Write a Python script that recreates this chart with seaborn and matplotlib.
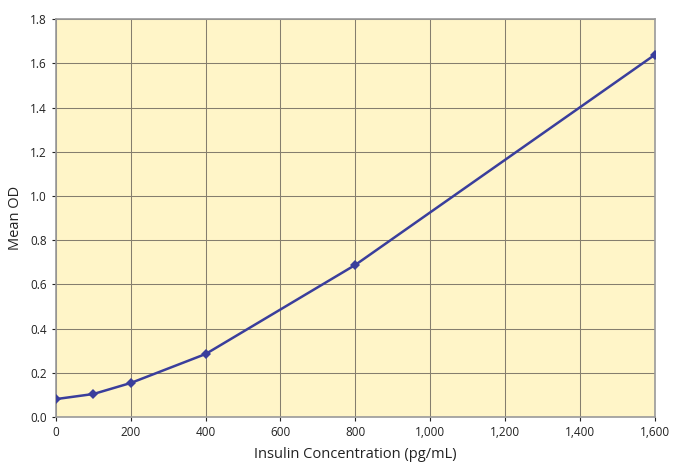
import matplotlib
matplotlib.use("Agg")
import matplotlib.pyplot as plt
import seaborn as sns
import pandas as pd

# standard curve data
conc = [0, 100, 200, 400, 800, 1600]
mean_od = [0.081, 0.104, 0.154, 0.285, 0.688, 1.638]

x_ticks = [0, 200, 400, 600, 800, 1000, 1200, 1400, 1600]
x_labels = ["0", "200", "400", "600", "800", "1,000", "1,200", "1,400", "1,600"]
y_ticks = [0.0, 0.2, 0.4, 0.6, 0.8, 1.0, 1.2, 1.4, 1.6, 1.8]
y_labels = ["0.0", "0.2", "0.4", "0.6", "0.8", "1.0", "1.2", "1.4", "1.6", "1.8"]

df = pd.DataFrame({"conc": conc, "od": mean_od})

sns.set_style("white")
plt.rcParams["font.family"] = ["Open Sans", "DejaVu Sans"]

fig = plt.figure(figsize=(6.84, 4.68), dpi=100)
ax = fig.add_axes([0.0819, 0.109, 0.875, 0.850])
ax.set_facecolor("#fff5c8")

sns.lineplot(data=df, x="conc", y="od", ax=ax, color="#3a3e9c", linewidth=1.8,
             marker="D", markersize=5, markeredgewidth=0, zorder=3)

ax.set_xlim(0, 1600)
ax.set_ylim(0, 1.8)
ax.set_xticks(x_ticks)
ax.set_xticklabels(x_labels)
ax.set_yticks(y_ticks)
ax.set_yticklabels(y_labels)
ax.grid(True, color="#857e6e", linewidth=0.75)
ax.set_axisbelow(True)
for s in ax.spines.values():
    s.set_color("#9a9a9a")
    s.set_linewidth(1.2)
ax.tick_params(axis="both", labelsize=8.5, colors="#222222", length=3,
               direction="out", bottom=True, left=True, width=0.8)
ax.set_xlabel("Insulin Concentration (pg/mL)", fontsize=10.5, color="#222222", labelpad=6)
ax.set_ylabel("Mean OD", fontsize=10.5, color="#222222", labelpad=5)

fig.savefig("out.png", dpi=100)
